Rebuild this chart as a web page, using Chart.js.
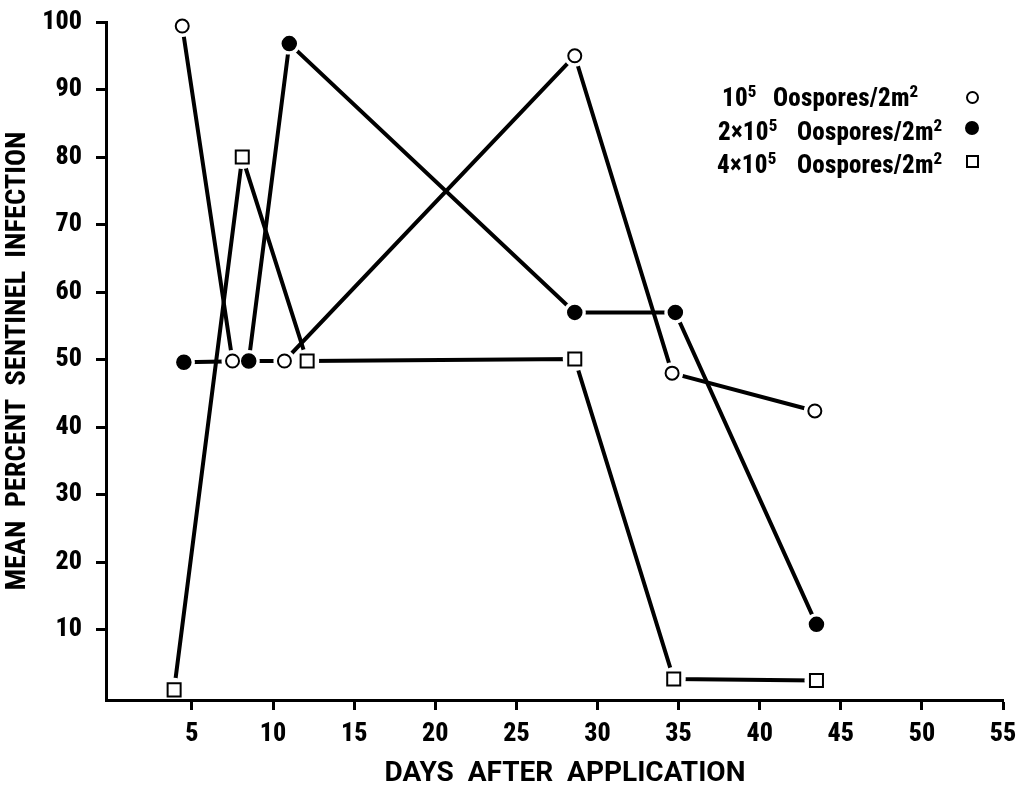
<!DOCTYPE html>
<html>
<head>
<meta charset="utf-8">
<script src="https://cdn.jsdelivr.net/npm/chart.js@4.4.1/dist/chart.umd.min.js"></script>
<style>
    html, body { margin: 0; padding: 0; background: #fff; }
    #wrap { position: relative; width: 1031px; height: 797px; }
    #chart { position: absolute; left: 0; top: 0; }
    .legend-row {
        position: absolute;
        left: 0; width: 1031px; height: 25px;
        font-family: Roboto, sans-serif; font-stretch: semi-condensed;
        font-weight: 800; font-size: 25px; line-height: 25px; color: #000;
        letter-spacing: 0.2px;
    }
    .legend-row span { position: absolute; top: 0; white-space: nowrap; }
    .legend-row sup { font-size: 17px; vertical-align: 9px; line-height: 0; }
    .mark { position: absolute; box-sizing: border-box; border: 2px solid #000; background: #fff; }
</style>
</head>
<body>
<div id="wrap">
    <canvas id="chart" width="1031" height="797"></canvas>
    <div id="legend"></div>
</div>
<script>
// 刻度
const xTicks = [5, 10, 15, 20, 25, 30, 35, 40, 45, 50, 55];
const yTicks = [10, 20, 30, 40, 50, 60, 70, 80, 90, 100];

// 三个处理
const seriesNames = ['10^5 Oospores/2m^2', '2x10^5 Oospores/2m^2', '4x10^5 Oospores/2m^2'];
const daysLow = [4.4, 7.5, 10.7, 28.6, 34.6, 43.4];
const infLow = [99.4, 49.8, 49.8, 95.0, 48.0, 42.4];
const daysMid = [4.5, 8.5, 11.0, 28.6, 34.8, 43.5];
const infMid = [49.6, 49.8, 96.8, 57.0, 57.0, 10.8];
const daysHigh = [3.9, 8.1, 12.1, 28.6, 34.7, 43.5];
const infHigh = [1.1, 80.0, 49.8, 50.1, 2.7, 2.5];

const FAMILY = "Roboto, 'DejaVu Sans Condensed', sans-serif";

const toPoints = (xs, ys) => xs.map((x, i) => ({ x: x, y: ys[i] }));

// 每个系列：线、白色光晕（让线在点前断开）、标记
const seriesStyle = [
    { data: toPoints(daysLow, infLow), style: 'circle', radius: 6.5, border: 2, fill: '#fff', halo: 11 },
    { data: toPoints(daysMid, infMid), style: 'circle', radius: 7, border: 1.5, fill: '#000', halo: 11 },
    { data: toPoints(daysHigh, infHigh), style: 'rect', radius: 9.2, border: 2, fill: '#fff', halo: 12 }
];

const datasets = [];
seriesStyle.forEach((s, i) => {
    datasets.push({
        label: seriesNames[i],
        data: s.data,
        order: 1,
        clip: false,
        showLine: false,
        pointStyle: s.style,
        pointRadius: s.radius,
        pointBackgroundColor: s.fill,
        pointBorderColor: '#000',
        pointBorderWidth: s.border
    });
});
seriesStyle.forEach((s, i) => {
    datasets.push({
        label: seriesNames[i] + ' halo',
        data: s.data,
        order: 2,
        showLine: false,
        pointStyle: 'circle',
        pointRadius: s.halo,
        pointBackgroundColor: '#fff',
        pointBorderWidth: 0
    });
});
seriesStyle.forEach((s, i) => {
    datasets.push({
        label: seriesNames[i] + ' line',
        data: s.data,
        order: 3,
        showLine: true,
        borderColor: '#000',
        borderWidth: 4,
        pointRadius: 0,
        tension: 0
    });
});

const axisGrid = { drawOnChartArea: false, drawTicks: true, tickLength: 10, tickWidth: 3, tickColor: '#000', z: 1 };
const axisBorder = { display: true, color: '#000', width: 3, z: 1 };

new Chart(document.getElementById('chart'), {
    type: 'scatter',
    data: { datasets: datasets },
    options: {
        responsive: false,
        animation: false,
        layout: { padding: { top: 22, right: 28, left: 0, bottom: 0 } },
        plugins: {
            legend: { display: false },
            tooltip: { enabled: false }
        },
        scales: {
            x: {
                type: 'linear',
                min: -0.3,
                max: 55,
                afterBuildTicks: (scale) => { scale.ticks = xTicks.map(v => ({ value: v })); },
                afterFit: (scale) => { scale.height = 97; },
                grid: axisGrid,
                border: axisBorder,
                ticks: {
                    color: '#000',
                    font: { family: FAMILY, size: 26, weight: '800 condensed', lineHeight: 1.2 },
                    padding: 9, maxRotation: 0, autoSkip: false
                },
                title: {
                    display: true,
                    text: '   DAYS  AFTER  APPLICATION',
                    color: '#000',
                    font: { family: FAMILY, size: 28, weight: 'bold' },
                    padding: { top: 0, bottom: 6 }
                }
            },
            y: {
                type: 'linear',
                min: -0.4,
                max: 100,
                afterBuildTicks: (scale) => { scale.ticks = yTicks.map(v => ({ value: v })); },
                afterFit: (scale) => { scale.width = 106; },
                grid: axisGrid,
                border: axisBorder,
                ticks: {
                    color: '#000',
                    font: { family: FAMILY, size: 26, weight: '800 condensed', lineHeight: 0.6 },
                    padding: 14, autoSkip: false
                },
                title: {
                    display: true,
                    text: 'MEAN  PERCENT  SENTINEL  INFECTION',
                    color: '#000',
                    font: { family: FAMILY, size: 28.5, weight: 'bold semi-condensed' },
                    padding: { top: 1, bottom: 0 }
                }
            }
        }
    }
});

// 图例（文字在左，符号在右）
const legendRows = [
    { top: 85, pre: '10', preLeft: 722, nameLeft: 773, mark: { cx: 972, cy: 97, size: 13, round: true, fill: '#fff' } },
    { top: 119, pre: '2×10', preLeft: 718, nameLeft: 797, mark: { cx: 972, cy: 128, size: 14, round: true, fill: '#000' } },
    { top: 152, pre: '4×10', preLeft: 717, nameLeft: 797, mark: { cx: 972, cy: 161, size: 13, round: false, fill: '#fff' } }
];
const legendEl = document.getElementById('legend');
legendEl.innerHTML = legendRows.map(r => `
    <div class="legend-row" style="top:${r.top}px">
        <span style="left:${r.preLeft}px">${r.pre}<sup>5</sup></span>
        <span style="left:${r.nameLeft}px">Oospores/2m<sup>2</sup></span>
    </div>
    <div class="mark" style="left:${r.mark.cx - r.mark.size / 2}px;top:${r.mark.cy - r.mark.size / 2}px;
        width:${r.mark.size}px;height:${r.mark.size}px;
        background:${r.mark.fill};border-radius:${r.mark.round ? '50%' : '0'}"></div>
`).join('');
</script>
</body>
</html>
